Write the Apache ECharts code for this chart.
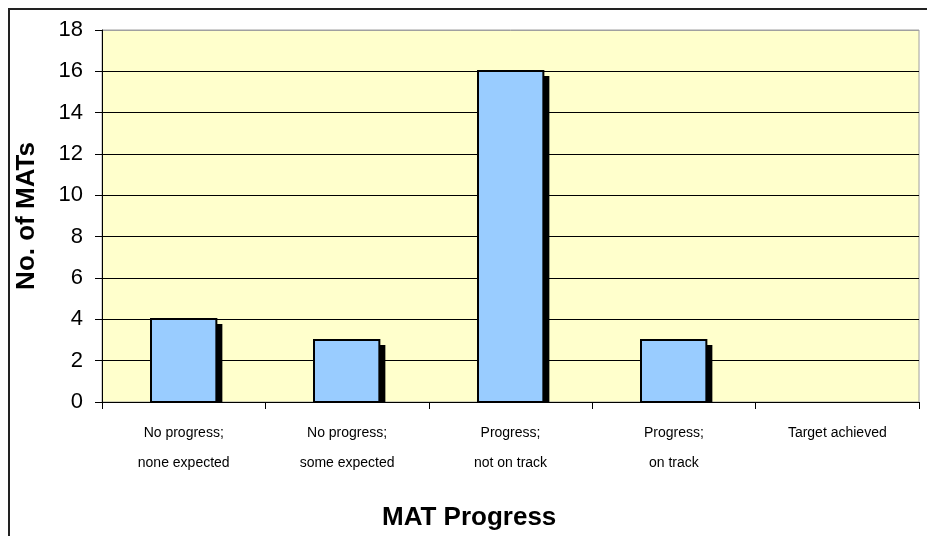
<!DOCTYPE html>
<html>
<head>
<meta charset="utf-8">
<script src="https://cdn.jsdelivr.net/npm/echarts@6/dist/echarts.min.js"></script>
<style>
  html, body { margin: 0; padding: 0; background: #fff; }
  #chart { width: 927px; height: 536px; }
</style>
</head>
<body>
<div id="chart"></div>
<script>
// MAT progress chart
const categories = [
  'No progress;\nnone expected',
  'No progress;\nsome expected',
  'Progress;\nnot on track',
  'Progress;\non track',
  'Target achieved'
]
const matCounts = [4, 3, 16, 3, 0]
const yTicks    = { min: 0, max: 18, interval: 2 }

const FONT = 'Arial, "Liberation Sans", sans-serif'

// bar + offset black shadow, drawn from the axis scales
function renderBar(params, api) {
  const v = api.value(1)
  if (!v) return { type: 'group', children: [] }
  const top  = api.coord([api.value(0), v])
  const base = api.coord([api.value(0), 0])
  const bw   = api.size([1, 0])[0] * 0.4
  const x    = Math.round(top[0] - bw / 2)
  const y    = Math.round(top[1])
  const h    = Math.round(base[1]) - y
  return {
    type: 'group',
    children: [
      { type: 'rect', shape: { x: x + 6, y: y + 5, width: bw, height: h - 5 },
        style: { fill: '#000' } },
      { type: 'rect', shape: { x: x, y: y, width: bw, height: h },
        style: { fill: '#99CCFF', stroke: '#000', lineWidth: 2 } }
    ]
  }
}

const chart = echarts.init(document.getElementById('chart'), null, { renderer: 'canvas' })

const gridLineColors = yTicks.max / yTicks.interval
const splitColors = Array.from({ length: gridLineColors + 1 }, (_, i) => i === gridLineColors ? '#A0A0A0' : '#000')

chart.setOption({
  animation: false,
  textStyle: { fontFamily: FONT },
  title: {
    text: 'MAT Progress',
    left: 377, top: 500,
    textStyle: { fontFamily: FONT, fontSize: 26, fontWeight: 'bold', color: '#000' }
  },
  graphic: [
    { type: 'rect', shape: { x: 9, y: 9, width: 2000, height: 2000 },
      style: { fill: 'none', stroke: '#222', lineWidth: 2 }, silent: true, z: -10 }
  ],
  grid: {
    left: 102, top: 30, right: 8, bottom: 134,
    show: true, backgroundColor: '#FFFFCC', borderColor: '#A0A0A0', borderWidth: 1
  },
  xAxis: {
    type: 'category',
    data: categories,
    boundaryGap: true,
    axisLine: { lineStyle: { color: '#000', width: 1 } },
    axisTick: { show: true, length: 7, alignWithLabel: false, lineStyle: { color: '#000' } },
    axisLabel: { interval: 0, margin: 16, fontSize: 14, lineHeight: 30, color: '#000', fontFamily: FONT },
    splitLine: { show: false }
  },
  yAxis: {
    type: 'value',
    min: yTicks.min, max: yTicks.max, interval: yTicks.interval,
    name: 'No. of MATs',
    nameLocation: 'middle',
    nameGap: 62,
    nameTextStyle: { fontFamily: FONT, fontSize: 26, fontWeight: 'bold', color: '#000' },
    axisLine: { show: true, lineStyle: { color: '#000', width: 1 } },
    axisTick: { show: true, length: 7, lineStyle: { color: '#000' } },
    axisLabel: { margin: 19, fontSize: 22, color: '#000', fontFamily: FONT },
    splitLine: { show: true, lineStyle: { color: splitColors, width: 1 } }
  },
  series: [{
    type: 'custom',
    renderItem: renderBar,
    data: matCounts.map((v, i) => [i, v]),
    encode: { x: 0, y: 1 },
    clip: false
  }]
})
</script>
</body>
</html>
